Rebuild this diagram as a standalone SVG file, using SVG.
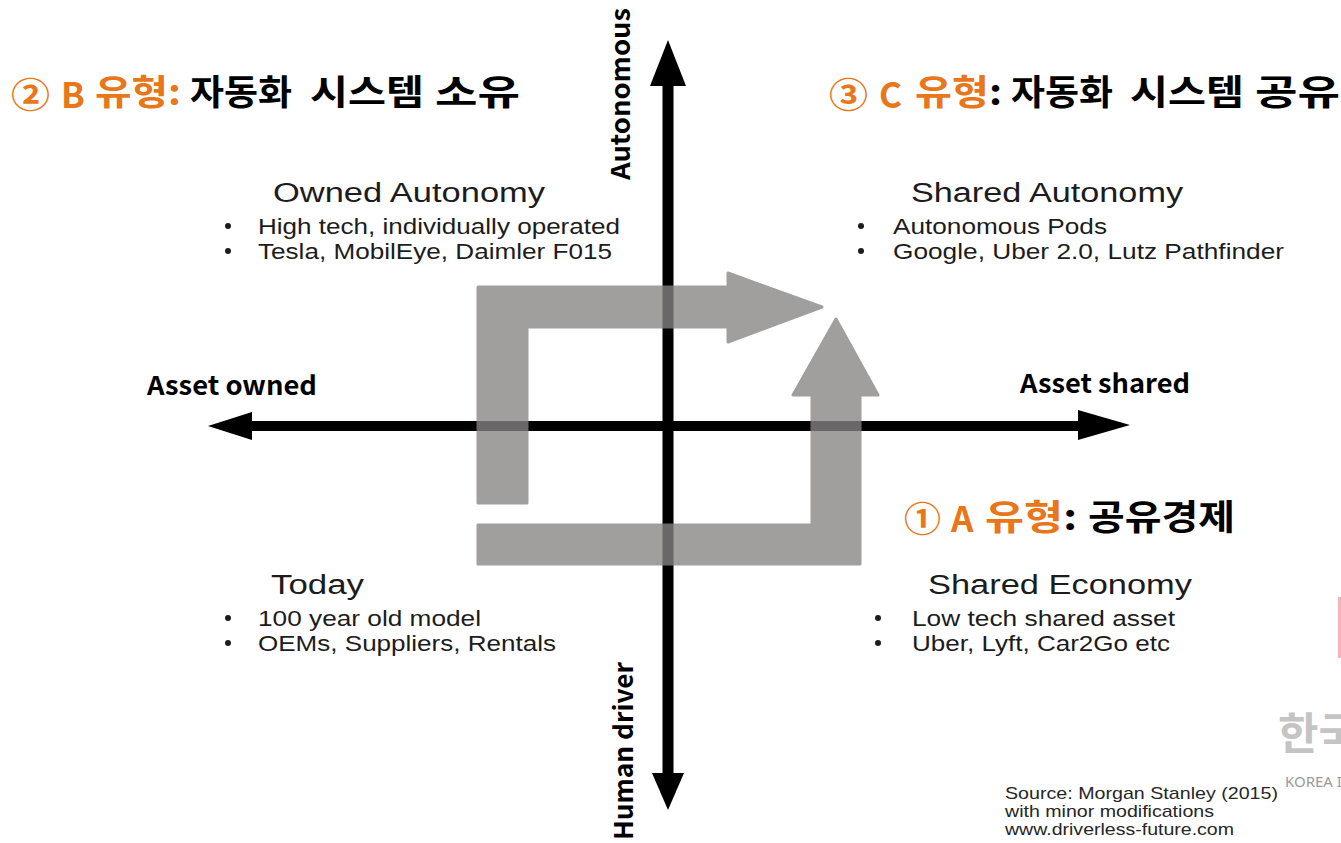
<svg xmlns="http://www.w3.org/2000/svg" width="1341" height="843" viewBox="0 0 1341 843">
<style>
.kr{font-family:"Noto Sans CJK KR","Noto Sans",sans-serif;font-weight:bold;font-size:35px;fill:#000}
.or{fill:#E8761A}
.ax{font-family:"Noto Sans CJK KR","Noto Sans",sans-serif;font-weight:bold;font-size:26px;fill:#000}
.qh{font-family:"Liberation Sans",Arial,sans-serif;font-size:27px;fill:#1c1c1c}
.qb{font-family:"Liberation Sans",Arial,sans-serif;font-size:22px;fill:#1c1c1c}
.src{font-family:"Liberation Sans",Arial,sans-serif;font-size:17px;fill:#262626}
.dot{fill:#1c1c1c}
.gray{fill:#878584;stroke:#878584;stroke-width:3;stroke-linejoin:round}
</style>
<rect width="1341" height="843" fill="#fff"/>

<g id="axes">
  <line x1="668" y1="80" x2="668" y2="778" stroke="#000" stroke-width="11"/>
  <polygon points="668,40 650,86 686,86" fill="#000"/>
  <polygon points="668,810 652,773 684,773" fill="#000"/>
  <line x1="248" y1="426" x2="1082" y2="426" stroke="#000" stroke-width="10"/>
  <polygon points="208,426 252,412 252,440" fill="#000"/>
  <polygon points="1130,425 1078,410 1078,440" fill="#000"/>
</g>

<g id="connectors" opacity="0.78">
  <path class="gray" d="M478,287 H728 V273 L822,307 L728,342 V327 H527 V503 H478 Z"/>
  <path class="gray" d="M478,525 H812 V395 H793 L836,319 L878,395 H860 V564 H478 Z"/>
</g>

<g id="axis-labels">
  <text class="ax" x="147" y="395" textLength="170" lengthAdjust="spacingAndGlyphs">Asset owned</text>
  <text class="ax" x="1020" y="393" textLength="170" lengthAdjust="spacingAndGlyphs">Asset shared</text>
  <text class="ax" transform="translate(630,180) rotate(-90)" textLength="172" lengthAdjust="spacingAndGlyphs">Autonomous</text>
  <text class="ax" transform="translate(633,840) rotate(-90)" textLength="178" lengthAdjust="spacingAndGlyphs">Human driver</text>
</g>

<g id="title-b">
  <text class="kr or" x="11" y="108" textLength="39" lengthAdjust="spacingAndGlyphs">②</text>
  <text class="kr or" x="61" y="108">B</text>
  <text class="kr or" x="95" y="105" textLength="86" lengthAdjust="spacingAndGlyphs">유형:</text>
  <text class="kr" x="190" y="105" textLength="102" lengthAdjust="spacingAndGlyphs">자동화</text>
  <text class="kr" x="310" y="105" textLength="114" lengthAdjust="spacingAndGlyphs">시스템</text>
  <text class="kr" x="435" y="105" textLength="85" lengthAdjust="spacingAndGlyphs">소유</text>
</g>
<g id="title-c">
  <text class="kr or" x="829" y="108" textLength="39" lengthAdjust="spacingAndGlyphs">③</text>
  <text class="kr or" x="879" y="108">C</text>
  <text class="kr" x="915" y="105" textLength="87" lengthAdjust="spacingAndGlyphs"><tspan class="or">유형</tspan>:</text>
  <text class="kr" x="1011" y="105" textLength="102" lengthAdjust="spacingAndGlyphs">자동화</text>
  <text class="kr" x="1130" y="105" textLength="114" lengthAdjust="spacingAndGlyphs">시스템</text>
  <text class="kr" x="1255" y="105" textLength="85" lengthAdjust="spacingAndGlyphs">공유</text>
</g>
<g id="title-a">
  <text class="kr or" x="904" y="532" textLength="37" lengthAdjust="spacingAndGlyphs">①</text>
  <text class="kr or" x="951" y="532">A</text>
  <text class="kr" x="985" y="530" textLength="92" lengthAdjust="spacingAndGlyphs"><tspan class="or">유형</tspan>:</text>
  <text class="kr" x="1088" y="530" textLength="147" lengthAdjust="spacingAndGlyphs">공유경제</text>
</g>

<g id="owned-autonomy">
  <text class="qh" x="273" y="202" textLength="272" lengthAdjust="spacingAndGlyphs">Owned Autonomy</text>
  <circle class="dot" cx="228" cy="226" r="3"/>
  <text class="qb" x="258" y="234" textLength="362" lengthAdjust="spacingAndGlyphs">High tech, individually operated</text>
  <circle class="dot" cx="228" cy="251" r="3"/>
  <text class="qb" x="258" y="259" textLength="354" lengthAdjust="spacingAndGlyphs">Tesla, MobilEye, Daimler F015</text>
</g>

<g id="shared-autonomy">
  <text class="qh" x="911" y="202" textLength="272" lengthAdjust="spacingAndGlyphs">Shared Autonomy</text>
  <circle class="dot" cx="861" cy="226" r="3"/>
  <text class="qb" x="893" y="234" textLength="214" lengthAdjust="spacingAndGlyphs">Autonomous Pods</text>
  <circle class="dot" cx="861" cy="251" r="3"/>
  <text class="qb" x="893" y="259" textLength="391" lengthAdjust="spacingAndGlyphs">Google, Uber 2.0, Lutz Pathfinder</text>
</g>

<g id="today">
  <text class="qh" x="271" y="594" textLength="93" lengthAdjust="spacingAndGlyphs">Today</text>
  <circle class="dot" cx="228" cy="618" r="3"/>
  <text class="qb" x="258" y="626" textLength="223" lengthAdjust="spacingAndGlyphs">100 year old model</text>
  <circle class="dot" cx="228" cy="643" r="3"/>
  <text class="qb" x="258" y="651" textLength="298" lengthAdjust="spacingAndGlyphs">OEMs, Suppliers, Rentals</text>
</g>

<g id="shared-economy">
  <text class="qh" x="928" y="594" textLength="264" lengthAdjust="spacingAndGlyphs">Shared Economy</text>
  <circle class="dot" cx="878" cy="618" r="3"/>
  <text class="qb" x="912" y="626" textLength="263" lengthAdjust="spacingAndGlyphs">Low tech shared asset</text>
  <circle class="dot" cx="878" cy="643" r="3"/>
  <text class="qb" x="912" y="651" textLength="258" lengthAdjust="spacingAndGlyphs">Uber, Lyft, Car2Go etc</text>
</g>

<g id="source">
  <text class="src" x="1005" y="799" textLength="273" lengthAdjust="spacingAndGlyphs">Source: Morgan Stanley (2015)</text>
  <text class="src" x="1005" y="817" textLength="209" lengthAdjust="spacingAndGlyphs">with minor modifications</text>
  <text class="src" x="1005" y="835" textLength="229" lengthAdjust="spacingAndGlyphs">www.driverless-future.com</text>
</g>

<g id="edge-marks">
  <rect x="1338" y="597" width="4" height="61" fill="#f3b5b5"/>
  <text x="1278" y="750" style="font-family:'Noto Sans CJK KR',sans-serif;font-weight:bold;font-size:44px;fill:#c4c4c4">한국</text>
  <text x="1285" y="787" style="font-family:'Noto Sans','Liberation Sans',sans-serif;font-size:15px;fill:#9a9a9a">KOREA I</text>
</g>
</svg>
